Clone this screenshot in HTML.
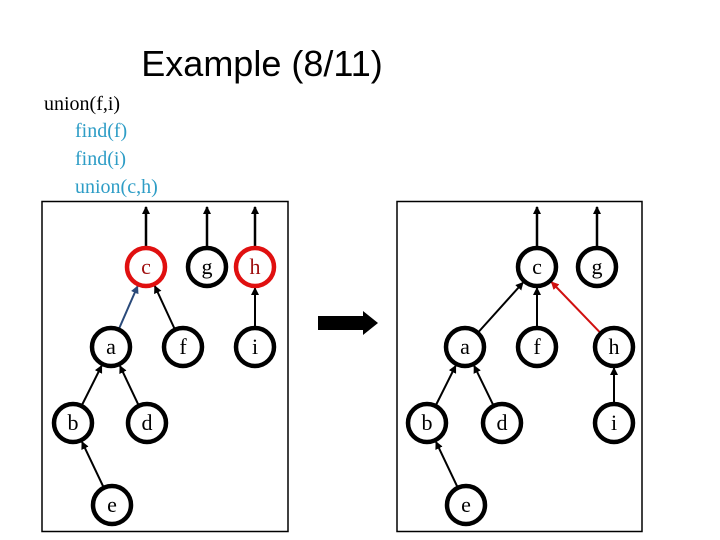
<!DOCTYPE html>
<html><head><meta charset="utf-8"><style>
html,body{margin:0;padding:0;background:#fff;width:720px;height:540px;overflow:hidden}
</style></head><body>
<svg id="s" width="720" height="540" xmlns="http://www.w3.org/2000/svg">
<defs>
<marker id="ak" markerWidth="8" markerHeight="8" refX="7" refY="4" orient="auto" markerUnits="userSpaceOnUse"><path d="M0,0 L8,4 L0,8 z" fill="#000"/></marker>
<marker id="ab" markerWidth="8" markerHeight="8" refX="7" refY="4" orient="auto" markerUnits="userSpaceOnUse"><path d="M0,0 L8,4 L0,8 z" fill="#2a4a7a"/></marker>
<marker id="ar" markerWidth="8" markerHeight="8" refX="7" refY="4" orient="auto" markerUnits="userSpaceOnUse"><path d="M0,0 L8,4 L0,8 z" fill="#d01010"/></marker>
</defs>
<text x="262" y="76" font-family="Liberation Sans, sans-serif" font-size="36" text-anchor="middle" fill="#000">Example (8/11)</text>
<g font-family="Liberation Serif, serif" font-size="20">
<text x="44" y="110" fill="#000">union(f,i)</text>
<text x="75" y="137" fill="#2e9dc6">find(f)</text>
<text x="75" y="165" fill="#2e9dc6">find(i)</text>
<text x="75" y="193" fill="#2e9dc6">union(c,h)</text>
</g>
<rect x="42" y="201.5" width="246" height="330" fill="none" stroke="#000" stroke-width="1.5"/>
<rect x="397" y="201.5" width="245" height="330" fill="none" stroke="#000" stroke-width="1.5"/>
<path d="M318,316 H363 V311 L378,323 L363,335 V330 H318 z" fill="#000"/>
<g id="g"></g>
</svg>
<script>
var g=document.getElementById('g'),NS="http://www.w3.org/2000/svg";
function el(t,a){var e=document.createElementNS(NS,t);for(var k in a)e.setAttribute(k,a[k]);g.appendChild(e);return e}
var R=19;
var L={c:[146,267,1],g:[207,267],h:[255,267,1],a:[111,347],f:[183,347],i:[255,347],b:[73,423],d:[147,423],e:[112,505]};
var Rt={c:[537,267],g:[597,267],a:[465,347],f:[537,347],h:[614,347],b:[427,423],d:[502,423],i:[614,423],e:[466,505]};
function edge(N,a,b,m,col){var p=N[a],q=N[b];var dx=q[0]-p[0],dy=q[1]-p[1],l=Math.hypot(dx,dy);
el('line',{x1:p[0]+dx/l*R,y1:p[1]+dy/l*R,x2:q[0]-dx/l*(R+2),y2:q[1]-dy/l*(R+2),stroke:col,'stroke-width':2,'marker-end':'url(#'+m+')'})}
function up(N,a){var p=N[a];el('line',{x1:p[0],y1:p[1]-R-2,x2:p[0],y2:207,stroke:'#000','stroke-width':2.5,'marker-end':'url(#ak)'})}
function nodes(N){for(var k in N){var p=N[k],red=p[2];el('circle',{cx:p[0],cy:p[1],r:R,fill:'#fff',stroke:red?'#e01010':'#000','stroke-width':4.5});
var t=el('text',{x:p[0],y:p[1]+7,'text-anchor':'middle','font-family':'Liberation Serif, serif','font-size':22,fill:red?'#a01010':'#000'});t.textContent=k;}}
['c','g','h'].forEach(function(k){up(L,k)});
edge(L,'a','c','ab','#2a4a7a');edge(L,'f','c','ak','#000');edge(L,'i','h','ak','#000');
edge(L,'b','a','ak','#000');edge(L,'d','a','ak','#000');edge(L,'e','b','ak','#000');
['c','g'].forEach(function(k){up(Rt,k)});
edge(Rt,'a','c','ak','#000');edge(Rt,'f','c','ak','#000');edge(Rt,'h','c','ar','#d01010');edge(Rt,'i','h','ak','#000');
edge(Rt,'b','a','ak','#000');edge(Rt,'d','a','ak','#000');edge(Rt,'e','b','ak','#000');
nodes(L);nodes(Rt);
</script>
</body></html>
